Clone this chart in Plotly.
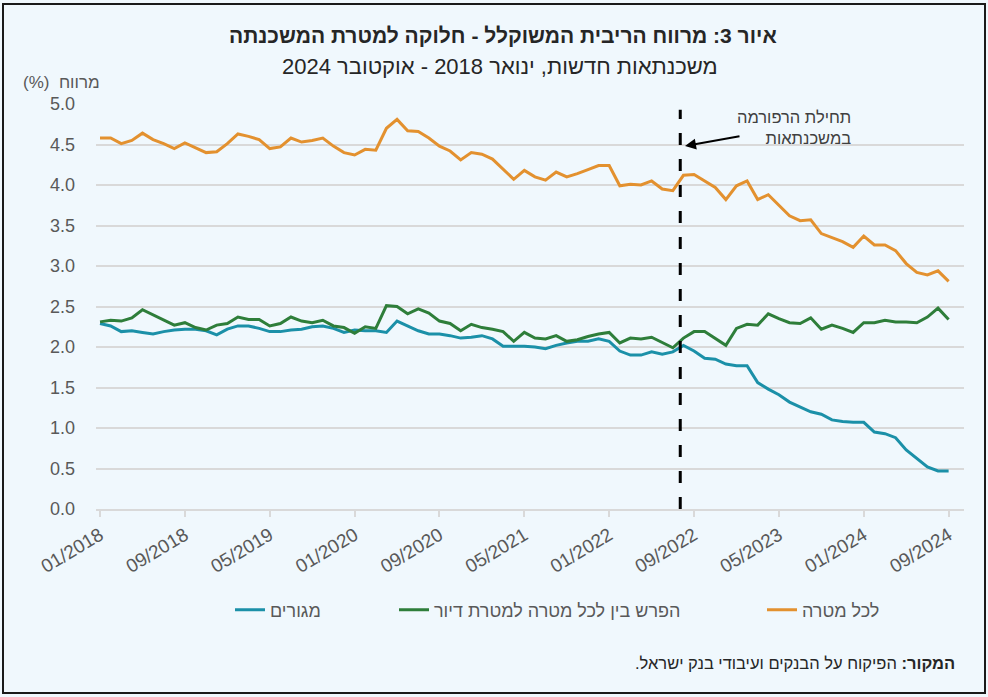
import plotly.graph_objects as go
import pandas as pd

# ---- data ----
months = pd.date_range("2018-01-01", periods=81, freq="MS").strftime("%m/%Y").tolist()

all_purposes = [
    4.58, 4.58, 4.51, 4.55, 4.64, 4.56, 4.51, 4.45, 4.52, 4.46,
    4.40, 4.41, 4.51, 4.63, 4.60, 4.56, 4.45, 4.47, 4.58, 4.53,
    4.55, 4.58, 4.48, 4.40, 4.37, 4.44, 4.43, 4.70, 4.81, 4.67,
    4.66, 4.58, 4.48, 4.42, 4.31, 4.40, 4.38, 4.32, 4.20, 4.07,
    4.18, 4.10, 4.06, 4.16, 4.10, 4.14, 4.19, 4.24, 4.24, 3.99,
    4.01, 4.00, 4.05, 3.95, 3.93, 4.12, 4.13, 4.05, 3.97, 3.82,
    3.99, 4.05, 3.82, 3.88, 3.75, 3.62, 3.56, 3.57, 3.40, 3.35,
    3.30, 3.23, 3.37, 3.26, 3.26, 3.19, 3.03, 2.92, 2.89, 2.94,
    2.81,
]

spread = [
    2.31, 2.33, 2.32, 2.36, 2.46, 2.40, 2.33, 2.27, 2.30, 2.24,
    2.21, 2.27, 2.29, 2.37, 2.34, 2.34, 2.26, 2.29, 2.37, 2.32,
    2.30, 2.33, 2.26, 2.24, 2.17, 2.25, 2.23, 2.51, 2.50, 2.41,
    2.47, 2.42, 2.32, 2.29, 2.20, 2.28, 2.24, 2.22, 2.19, 2.07,
    2.18, 2.11, 2.10, 2.14, 2.07, 2.09, 2.13, 2.16, 2.18, 2.05,
    2.11, 2.10, 2.12, 2.05, 1.99, 2.11, 2.19, 2.19, 2.11, 2.02,
    2.23, 2.28, 2.27, 2.41, 2.35, 2.30, 2.29, 2.36, 2.22, 2.27,
    2.23, 2.18, 2.30, 2.30, 2.33, 2.31, 2.31, 2.30, 2.37, 2.48,
    2.34,
]

housing = [
    2.29, 2.26, 2.19, 2.20, 2.18, 2.16, 2.19, 2.21, 2.22, 2.22,
    2.20, 2.15, 2.22, 2.26, 2.26, 2.23, 2.19, 2.19, 2.21, 2.22,
    2.25, 2.26, 2.23, 2.18, 2.21, 2.20, 2.20, 2.18, 2.32, 2.26,
    2.20, 2.16, 2.16, 2.14, 2.11, 2.12, 2.14, 2.10, 2.01, 2.01,
    2.01, 2.00, 1.98, 2.02, 2.05, 2.07, 2.07, 2.10, 2.07, 1.95,
    1.90, 1.90, 1.94, 1.91, 1.94, 2.02, 1.95, 1.86, 1.85, 1.79,
    1.77, 1.77, 1.56, 1.48, 1.41, 1.32, 1.26, 1.20, 1.17, 1.10,
    1.08, 1.07, 1.07, 0.95, 0.93, 0.88, 0.73, 0.63, 0.52, 0.47,
    0.47,
]

tick_step = 8
reform_x = 54.7      # position of the reform marker (in month-index units)
reform_top = 4.93

names = {
    "all": "לכל מטרה",
    "spread": "הפרש בין לכל מטרה למטרת דיור",
    "housing": "מגורים",
}
colors = {"all": "#E3912F", "spread": "#2E7E3A", "housing": "#1B90A8"}

FONT = "Liberation Sans, Arial, sans-serif"
RLM = "\u200f"

x = list(range(len(months)))

fig = go.Figure()
fig.add_trace(go.Scatter(x=x, y=housing, mode="lines", name=names["housing"],
                         line=dict(color=colors["housing"], width=3), legend="legend",
                         showlegend=True))
fig.add_trace(go.Scatter(x=x, y=spread, mode="lines", name=names["spread"],
                         line=dict(color=colors["spread"], width=3), legend="legend2",
                         showlegend=True))
fig.add_trace(go.Scatter(x=x, y=all_purposes, mode="lines", name=names["all"],
                         line=dict(color=colors["all"], width=3), legend="legend3",
                         showlegend=True))

tickvals = x[::tick_step]
ticktext = months[::tick_step]

bg = "#F0F8FD"
legend_common = dict(orientation="h", xref="container", yref="container",
                     y=1 - 610 / 697, yanchor="middle", bgcolor="rgba(0,0,0,0)",
                     font=dict(family=FONT, size=18, color="#595959"))

fig.update_layout(
    width=988, height=697, autosize=False,
    showlegend=True,
    margin=dict(l=96, r=24, t=104, b=188),
    paper_bgcolor=bg, plot_bgcolor=bg,
    font=dict(family=FONT, color="#595959"),
    legend=dict(x=230 / 988, **legend_common),
    legend2=dict(x=394 / 988, **legend_common),
    legend3=dict(x=762 / 988, **legend_common),
    xaxis=dict(range=[-0.38, 81.45], tickmode="array", tickvals=tickvals, ticktext=ticktext,
               tickangle=-31, ticks="outside", ticklen=6, tickcolor="#D9D9D9", tickwidth=1.5,
               showline=True, linecolor="#D9D9D9", linewidth=1.5, showgrid=False, zeroline=False,
               automargin=False,
               tickfont=dict(family=FONT, size=19, color="#595959")),
    yaxis=dict(range=[0, 5], dtick=0.5, tickformat=".1f", showgrid=True,
               gridcolor="#D9D9D9", gridwidth=1.5, zeroline=False, showline=False,
               ticks="", ticklabelstandoff=20, automargin=False,
               tickfont=dict(family=FONT, size=18, color="#595959")),
)

W = 988 - 96 - 24
H = 697 - 104 - 188


def px(xp):
    return (xp - 96) / W


def py(yp):
    return (509 - yp) / H


annotations = [
    dict(text="<b>איור 3: מרווח הריבית המשוקלל - חלוקה למטרת המשכנתה</b>",
         x=px(503), y=py(35), xref="paper", yref="paper", showarrow=False,
         xanchor="center", yanchor="middle",
         font=dict(family=FONT, size=21, color="#262626")),
    dict(text="משכנתאות חדשות, ינואר 2018 - אוקטובר 2024",
         x=px(500), y=py(67), xref="paper", yref="paper", showarrow=False,
         xanchor="center", yanchor="middle",
         font=dict(family=FONT, size=22, color="#262626")),
    dict(text=RLM + "מרווח  (%)" + RLM,
         x=px(102), y=py(82), xref="paper", yref="paper", showarrow=False,
         xanchor="right", yanchor="middle",
         font=dict(family=FONT, size=17, color="#595959")),
    dict(text="תחילת הרפורמה<br>במשכנתאות",
         x=px(853), y=py(128), xref="paper", yref="paper", showarrow=False,
         xanchor="right", yanchor="middle", align="right",
         font=dict(family=FONT, size=16.5, color="#404040")),
    dict(text="", x=px(685), y=py(146), xref="paper", yref="paper",
         showarrow=True, ax=56, ay=-10, arrowhead=2, arrowsize=1.1,
         arrowwidth=2, arrowcolor="#000000"),
    dict(text=RLM + "<b>המקור:</b> הפיקוח על הבנקים ועיבודי בנק ישראל." + RLM,
         x=px(957), y=py(663), xref="paper", yref="paper", showarrow=False,
         xanchor="right", yanchor="middle",
         font=dict(family=FONT, size=16.5, color="#262626")),
]
fig.update_layout(annotations=annotations)

fig.add_shape(type="line", xref="x", yref="y", x0=reform_x, x1=reform_x,
              y0=0, y1=reform_top, line=dict(color="#000000", width=3, dash="12px,14px"))
fig.add_shape(type="rect", xref="paper", yref="paper",
              x0=px(3), x1=px(985), y0=py(693), y1=py(4),
              line=dict(color="#1A1A1A", width=2), fillcolor="rgba(0,0,0,0)")

fig.write_html("out.html", config={"displayModeBar": False},
               post_script="document.body.style.margin='0';")
